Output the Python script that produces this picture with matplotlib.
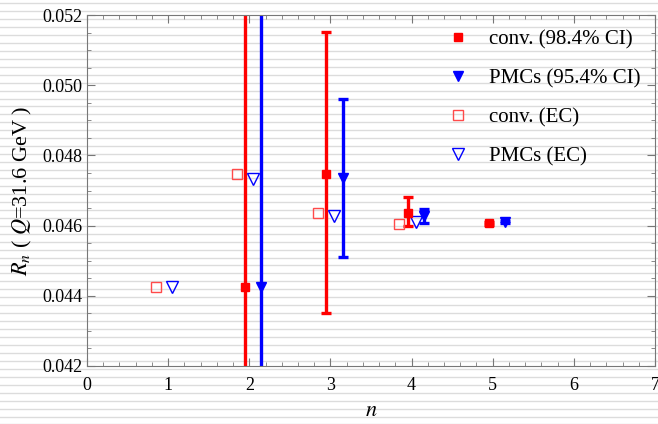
import numpy as np
import matplotlib.pyplot as plt
from matplotlib.lines import Line2D

plt.rcParams['font.family'] = ['Liberation Serif', 'DejaVu Serif']
plt.rcParams['mathtext.fontset'] = 'stix'

# conventional scale setting, 98.4% CI
n_conv = [1.95, 2.95, 3.95, 4.95]
r_conv = [0.04425, 0.04748, 0.04635, 0.04607]
conv_lo = [0.010, 0.00398, 0.00036, 0.00004]
conv_hi = [0.010, 0.00404, 0.00047, 0.00004]

# PMC scale setting, 95.4% CI
n_pmc = [2.15, 3.15, 4.15, 5.15]
r_pmc = [0.04425, 0.04735, 0.04628, 0.04611]
pmc_lo = [0.010, 0.00224, 0.00021, 0.00003]
pmc_hi = [0.010, 0.00225, 0.00018, 0.00003]

# error-estimate (EC) points
n_conv_ec = [0.85, 1.85, 2.85, 3.85]
r_conv_ec = [0.04425, 0.04748, 0.04636, 0.04604]
n_pmc_ec = [1.05, 2.05, 3.05, 4.05]
r_pmc_ec = [0.04425, 0.04733, 0.04628, 0.04610]

labels = ['conv. (98.4% CI)', 'PMCs (95.4% CI)', 'conv. (EC)', 'PMCs (EC)']

fig = plt.figure(figsize=(6.58, 4.24), dpi=100)

# ruled paper background
for k in range(54):
    y = 1 - (3.1 + 7.95 * k) / 424
    fig.add_artist(Line2D([0, 1], [y, y], transform=fig.transFigure,
                          color='#dcdcdc', lw=1.0, zorder=-10))

ax = fig.add_axes([87 / 658, 58 / 424, 568 / 658, 351 / 424])
ax.patch.set_visible(False)

ax.errorbar(n_conv, r_conv, yerr=[conv_lo, conv_hi], fmt='s', color='red',
            ms=6, elinewidth=2.4, capsize=3.5, capthick=2.4)
ax.errorbar(n_pmc, r_pmc, yerr=[pmc_lo, pmc_hi], fmt='v', color='blue',
            ms=7.5, elinewidth=2.4, capsize=3.5, capthick=2.4)
ax.plot(n_conv_ec, r_conv_ec, 's', mfc='none', mec='#ff4a4a', ms=7, mew=1,
        ls='none')
ax.plot(n_pmc_ec, r_pmc_ec, 'v', mfc='none', mec='blue', ms=8, mew=1,
        ls='none')

ax.set_xlim(0, 7)
ax.set_ylim(0.042, 0.052)
ax.set_xticks(np.arange(0, 8, 1))
ax.set_xticks(np.arange(0, 7.01, 0.2), minor=True)
ax.set_yticks(np.arange(0.042, 0.0521, 0.002))
ax.set_yticks(np.arange(0.042, 0.05201, 0.0005), minor=True)
ax.yaxis.set_major_formatter(plt.FormatStrFormatter('%.3f'))
ax.tick_params(which='both', direction='in', top=True, right=True,
               color='#777777', labelsize=13)
ax.tick_params(axis='x', pad=8)
ax.tick_params(which='major', length=6)
ax.tick_params(which='minor', length=3)
for s in ax.spines.values():
    s.set_color('#777777')

ax.set_xlabel('$n$', fontsize=16, labelpad=6)
ax.set_ylabel('$R_n$ ( $Q$=31.6 GeV )', fontsize=16, labelpad=6)

handles = [
    Line2D([], [], marker='s', color='red', ls='none', ms=6),
    Line2D([], [], marker='v', color='blue', ls='none', ms=7.5),
    Line2D([], [], marker='s', mfc='none', mec='#ff4a4a', ls='none', ms=7, mew=1),
    Line2D([], [], marker='v', mfc='none', mec='blue', ls='none', ms=8, mew=1),
]
ax.legend(handles, labels, loc='upper right', bbox_to_anchor=(1.0, 1.0),
          frameon=False, fontsize=15, handlelength=1.0, handletextpad=1.0,
          labelspacing=0.93, borderaxespad=0.3)

fig.savefig('out.png', dpi=100)
